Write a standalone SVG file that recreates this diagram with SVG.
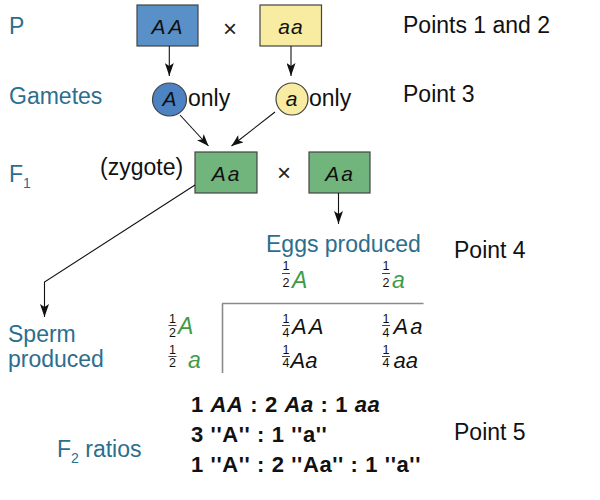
<svg xmlns="http://www.w3.org/2000/svg" width="600" height="500" viewBox="0 0 600 500">
<defs>
<marker id="ah" markerUnits="userSpaceOnUse" markerWidth="9" markerHeight="13" refX="4.5" refY="13" orient="0" viewBox="0 0 9 13">
<path d="M0,0 L4.5,13 L9,0 L4.5,3 z" fill="#111"/>
</marker>
<marker id="ad" markerUnits="userSpaceOnUse" markerWidth="12" markerHeight="9" refX="12" refY="4.5" orient="auto" viewBox="0 0 12 9">
<path d="M0,0 L12,4.5 L0,9 L3,4.5 z" fill="#111"/>
</marker>
<style>
text{font-family:"Liberation Sans",Arial,Helvetica,sans-serif;}
.lab{font-size:23px;fill:#2c6e8e;}
.blk{font-size:23px;fill:#111;}
.box{stroke:#444;stroke-width:1.2;}
.gen{font-size:21px;font-style:italic;fill:#111;text-anchor:middle;}
.cross{font-size:24px;fill:#222;text-anchor:middle;}
.ln{stroke:#111;stroke-width:1.1;fill:none;}
.frac{font-size:12.5px;fill:#111;text-anchor:middle;}
.fbar{stroke:#111;stroke-width:0.8;}
.gl{font-size:23px;font-style:italic;fill:#3f9a48;}
.cl{font-size:22px;font-style:italic;fill:#111;}
.grid{stroke:#8a8a8a;stroke-width:1.6;fill:none;}
.rat{font-size:22px;font-weight:bold;fill:#111;letter-spacing:0.6px;}
</style>
</defs>
<rect width="600" height="500" fill="#fff"/>

<g id="labels">
<text class="lab" x="9" y="34">P</text>
<text class="lab" x="9" y="104">Gametes</text>
<text class="lab" x="9" y="182">F<tspan font-size="14" dy="6">1</tspan></text>
<text class="lab" x="8" y="342">Sperm</text>
<text class="lab" x="8" y="367">produced</text>
<text class="lab" x="266" y="252">Eggs produced</text>
<text class="lab" x="57" y="457">F<tspan font-size="14" dy="6">2</tspan><tspan dy="-6"> ratios</tspan></text>
<text class="blk" x="403" y="33">Points 1 and 2</text>
<text class="blk" x="403" y="102">Point  3</text>
<text class="blk" x="454" y="258">Point  4</text>
<text class="blk" x="454" y="440">Point 5</text>
<text class="blk" x="100" y="175">(zygote)</text>
<text class="cross" x="230" y="37">×</text>
<text class="cross" x="284" y="181">×</text>
</g>

<g id="node-AA">
<rect class="box" x="137" y="5" width="61" height="41" fill="#5a90c8"/>
<text class="gen" x="168.5" y="34" letter-spacing="3">AA</text>
</g>
<g id="node-aa">
<rect class="box" x="260" y="5" width="61.5" height="41" fill="#f8eba2"/>
<text class="gen" x="291" y="34" letter-spacing="1">aa</text>
</g>
<g id="node-gameteA">
<ellipse class="box" cx="169.5" cy="99.5" rx="17" ry="16.5" fill="#4d83c2"/>
<text class="gen" x="169.5" y="106">A</text>
<text class="blk" x="188" y="106">only</text>
</g>
<g id="node-gametea">
<ellipse class="box" cx="292" cy="99" rx="16" ry="16" fill="#f8eba2"/>
<text class="gen" x="291.5" y="106">a</text>
<text class="blk" x="309" y="106">only</text>
</g>
<g id="node-F1a">
<rect class="box" x="195" y="152" width="62" height="41" fill="#72b57c"/>
<text class="gen" x="226.5" y="181" letter-spacing="2">Aa</text>
</g>
<g id="node-F1b">
<rect class="box" x="309" y="152" width="61" height="41" fill="#72b57c"/>
<text class="gen" x="340" y="181" letter-spacing="2">Aa</text>
</g>

<g id="connectors">
<line class="ln" x1="169.3" y1="46" x2="169.3" y2="76" marker-end="url(#ah)"/>
<line class="ln" x1="291" y1="46" x2="291" y2="76" marker-end="url(#ah)"/>
<line class="ln" x1="180" y1="115" x2="208.5" y2="146" marker-end="url(#ad)"/>
<line class="ln" x1="275" y1="112" x2="231.5" y2="146" marker-end="url(#ad)"/>
<line class="ln" x1="338.5" y1="193" x2="338.5" y2="224" marker-end="url(#ah)"/>
<polyline class="ln" points="195,185 44.5,282 44.5,317" marker-end="url(#ah)"/>
</g>

<g id="punnett">
<path class="grid" d="M222,303.5 H423.5 M222.5,303.5 V373"/>
<text class="frac" x="286" y="270">1</text><line class="fbar" x1="282" x2="290" y1="273.5" y2="273.5"/><text class="frac" x="286" y="286.5">2</text>
<text class="gl" x="292" y="288">A</text>
<text class="frac" x="386" y="270">1</text><line class="fbar" x1="382" x2="390" y1="273.5" y2="273.5"/><text class="frac" x="386" y="286.5">2</text>
<text class="gl" x="392" y="288">a</text>
<text class="frac" x="172.5" y="323">1</text><line class="fbar" x1="168.5" x2="176.5" y1="325.5" y2="325.5"/><text class="frac" x="172.5" y="336.5">2</text>
<text class="gl" x="178" y="334">A</text>
<text class="frac" x="286" y="323">1</text><line class="fbar" x1="282" x2="290" y1="325.5" y2="325.5"/><text class="frac" x="286" y="336.5">4</text>
<text class="cl" x="292" y="334" letter-spacing="2">AA</text>
<text class="frac" x="386" y="323">1</text><line class="fbar" x1="382" x2="390" y1="325.5" y2="325.5"/><text class="frac" x="386" y="336.5">4</text>
<text class="cl" x="393.5" y="334" letter-spacing="2">Aa</text>
<text class="frac" x="172.5" y="354">1</text><line class="fbar" x1="168.5" x2="176.5" y1="356.5" y2="356.5"/><text class="frac" x="172.5" y="367">2</text>
<text class="gl" x="188" y="368">a</text>
<text class="frac" x="286" y="354">1</text><line class="fbar" x1="282" x2="290" y1="356.5" y2="356.5"/><text class="frac" x="286" y="367">4</text>
<text class="cl" x="290.5" y="368">Aa</text>
<text class="frac" x="386" y="354">1</text><line class="fbar" x1="382" x2="390" y1="356.5" y2="356.5"/><text class="frac" x="386" y="367">4</text>
<text class="cl" x="393.5" y="368">aa</text>
</g>

<g id="ratios">
<text class="rat" x="191" y="412">1 <tspan font-style="italic">AA</tspan> : 2 <tspan font-style="italic">Aa</tspan> : 1 <tspan font-style="italic">aa</tspan></text>
<text class="rat" x="191" y="442">3 ''A'' : 1 ''a''</text>
<text class="rat" x="191" y="472">1 ''A'' : 2 ''Aa'' : 1 ''a''</text>
</g>
</svg>
